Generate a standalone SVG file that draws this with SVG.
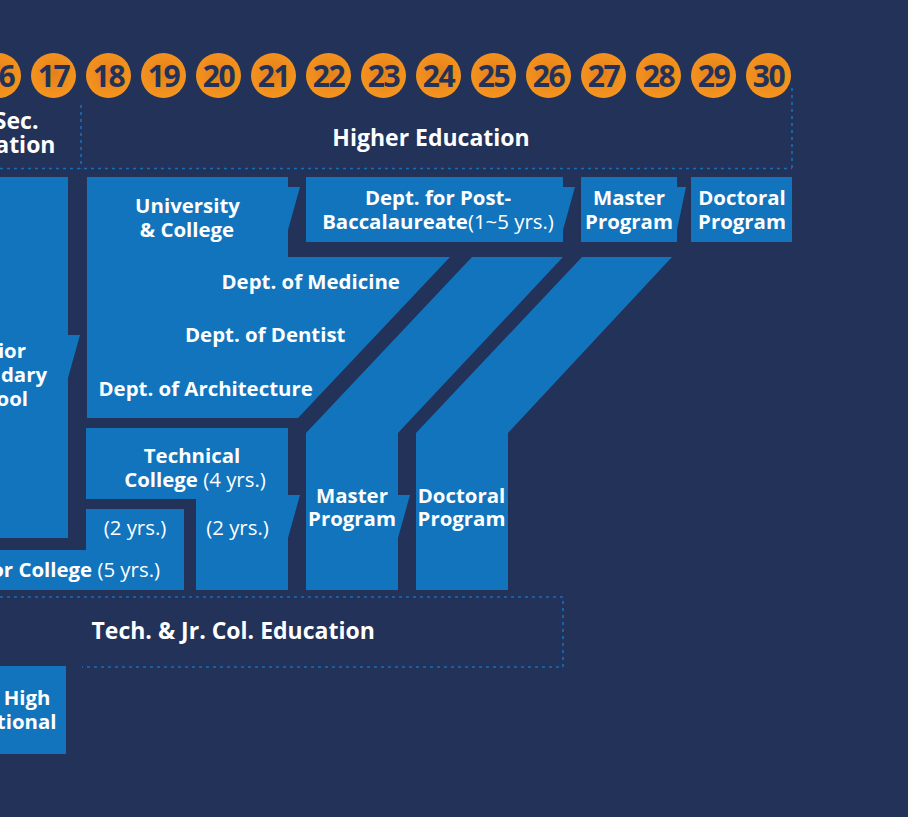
<svg xmlns="http://www.w3.org/2000/svg" width="908" height="817" viewBox="0 0 908 817">
<defs>
<radialGradient id="og" cx="50%" cy="45%" r="55%">
<stop offset="0" stop-color="#e5801a"/>
<stop offset="1" stop-color="#f5951f"/>
</radialGradient>
<style>
.bg{fill:#223259}
.blk{fill:#1174bc}
.num circle{fill:url(#og)}
.num text{font-family:"Open Sans","Liberation Sans",sans-serif;font-weight:700;font-size:30px;fill:#223259;text-anchor:middle;letter-spacing:-1.5px}
.t{font-family:"Open Sans","Liberation Sans",sans-serif;font-weight:700;font-size:20.4px;fill:#ffffff;text-anchor:middle}
.h{font-size:23px}
.r{font-weight:400}
.e{text-anchor:end}
.s{text-anchor:start}
.dot{fill:none;stroke:#1a6fb8;stroke-width:1.6;stroke-dasharray:3 4}
</style>
</defs>
<rect class="bg" x="0" y="0" width="908" height="817"/>

<g id="ages" class="num">
<g id="age16"><circle cx="-1.5" cy="75.5" r="22.5"/><text x="-1.5" y="86.5">16</text></g>
<g id="age17"><circle cx="53.5" cy="75.5" r="22.5"/><text x="53.5" y="86.5">17</text></g>
<g id="age18"><circle cx="108.5" cy="75.5" r="22.5"/><text x="108.5" y="86.5">18</text></g>
<g id="age19"><circle cx="163.5" cy="75.5" r="22.5"/><text x="163.5" y="86.5">19</text></g>
<g id="age20"><circle cx="218.5" cy="75.5" r="22.5"/><text x="218.5" y="86.5">20</text></g>
<g id="age21"><circle cx="273.5" cy="75.5" r="22.5"/><text x="273.5" y="86.5">21</text></g>
<g id="age22"><circle cx="328.5" cy="75.5" r="22.5"/><text x="328.5" y="86.5">22</text></g>
<g id="age23"><circle cx="383.5" cy="75.5" r="22.5"/><text x="383.5" y="86.5">23</text></g>
<g id="age24"><circle cx="438.5" cy="75.5" r="22.5"/><text x="438.5" y="86.5">24</text></g>
<g id="age25"><circle cx="493.5" cy="75.5" r="22.5"/><text x="493.5" y="86.5">25</text></g>
<g id="age26"><circle cx="548.5" cy="75.5" r="22.5"/><text x="548.5" y="86.5">26</text></g>
<g id="age27"><circle cx="603.5" cy="75.5" r="22.5"/><text x="603.5" y="86.5">27</text></g>
<g id="age28"><circle cx="658.5" cy="75.5" r="22.5"/><text x="658.5" y="86.5">28</text></g>
<g id="age29"><circle cx="713.5" cy="75.5" r="22.5"/><text x="713.5" y="86.5">29</text></g>
<g id="age30"><circle cx="768.5" cy="75.5" r="22.5"/><text x="768.5" y="86.5">30</text></g>
</g>

<g id="connectors">
<path class="dot" d="M0 168.5H792M81 105V168.5M792 88V168.5"/>
<path class="dot" d="M0 597H563V667H82"/>
</g>

<g id="sec-education">
<text class="t h e" x="38.5" y="128.5">Sec.</text>
<text class="t h e" x="55.5" y="152.5">ation</text>
</g>
<g id="higher-education">
<text class="t h" x="431" y="146">Higher Education</text>
</g>
<g id="tech-jr-education">
<text class="t h s" x="91.5" y="639">Tech. &amp; Jr. Col. Education</text>
</g>

<g id="senior-secondary">
<polygon class="blk" points="-10,177 68,177 68,335 80,335 68,378 68,538 -10,538"/>
<text class="t e" x="26" y="358">ior</text>
<text class="t e" x="47" y="382">dary</text>
<text class="t e" x="28" y="406">ool</text>
</g>

<g id="university">
<polygon class="blk" points="87,177 288,177 288,187 300,187 288,230 288,257 450,257 298,418 87,418"/>
<text class="t" x="187.5" y="213">University</text>
<text class="t" x="187" y="236.5">&amp; College</text>
<text class="t s" x="221.5" y="289">Dept. of Medicine</text>
<text class="t s" x="185" y="342">Dept. of Dentist</text>
<text class="t s" x="98.5" y="395.5">Dept. of Architecture</text>
</g>

<g id="post-bacc">
<polygon class="blk" points="306,177 563,177 563,187 575,187 563,230 563,242 306,242"/>
<text class="t" x="438" y="205">Dept. for Post-</text>
<text class="t" x="438" y="228.5">Baccalaureate<tspan class="r">(1~5 yrs.)</tspan></text>
</g>

<g id="master-top">
<polygon class="blk" points="581,177 677,177 677,187 686,187 677,230 677,242 581,242"/>
<text class="t" x="629" y="205">Master</text>
<text class="t" x="629" y="228.5">Program</text>
</g>

<g id="doctoral-top">
<polygon class="blk" points="691,177 792,177 792,242 691,242"/>
<text class="t" x="742" y="205">Doctoral</text>
<text class="t" x="742" y="228.5">Program</text>
</g>

<g id="master-low">
<polygon class="blk" points="472,257 563,257 398,433 398,495 410,495 398,538 398,590 306,590 306,433"/>
<text class="t" x="352" y="502.5">Master</text>
<text class="t" x="352" y="526">Program</text>
</g>

<g id="doctoral-low">
<polygon class="blk" points="582,257 672,257 508,433 508,590 416,590 416,433"/>
<text class="t" x="461.5" y="502.5">Doctoral</text>
<text class="t" x="461.5" y="526">Program</text>
</g>

<g id="technical">
<polygon class="blk" points="86,428 288,428 288,495 300,495 288,538 288,590 196,590 196,499 86,499"/>
<text class="t" x="192" y="462.5">Technical</text>
<text class="t" x="195" y="486.5">College <tspan class="r">(4 yrs.)</tspan></text>
<text class="t r" x="237.5" y="535">(2 yrs.)</text>
</g>

<g id="junior-college">
<polygon class="blk" points="-10,550 86,550 86,509 184,509 184,590 -10,590"/>
<text class="t r" x="135" y="535">(2 yrs.)</text>
<text class="t e" x="160" y="577">or College <tspan class="r">(5 yrs.)</tspan></text>
</g>

<g id="junior-high-vocational">
<polygon class="blk" points="-10,666 66,666 66,754 -10,754"/>
<text class="t e" x="50.5" y="705">r High</text>
<text class="t e" x="56.5" y="728.5">tional</text>
</g>
</svg>
